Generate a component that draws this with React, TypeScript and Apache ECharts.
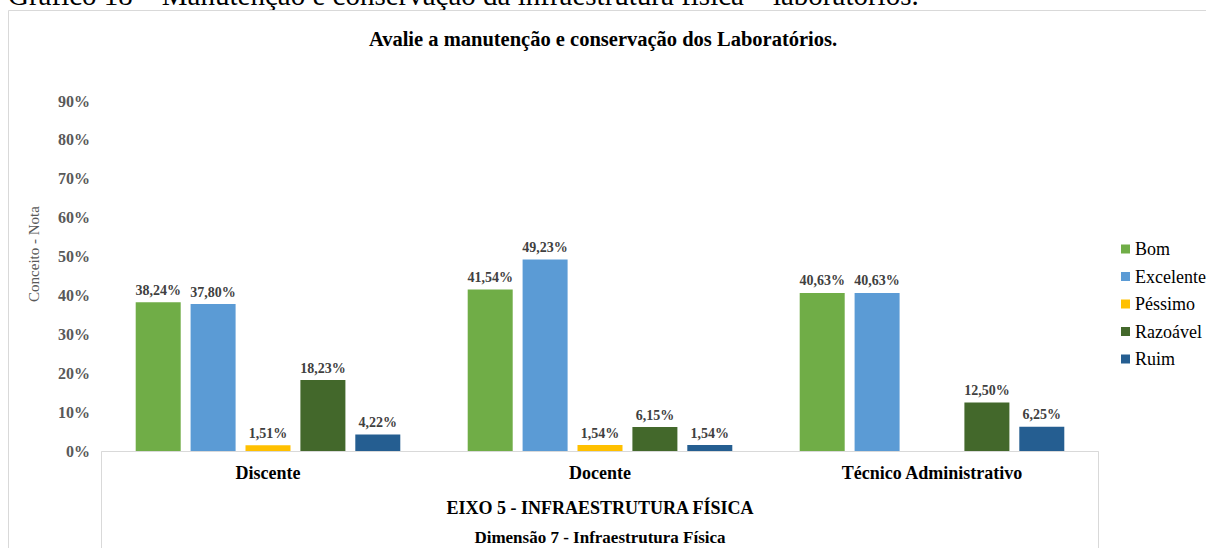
import React, { useEffect, useRef } from "react";
import * as echarts from "echarts";

const categories = ["Discente", "Docente", "Técnico Administrativo"];
const seriesNames = ["Bom", "Excelente", "Péssimo", "Razoável", "Ruim"];
const bom = [38.24, 41.54, 40.63];
const excelente = [37.8, 49.23, 40.63];
const pessimo: (number | null)[] = [1.51, 1.54, null];
const razoavel = [18.23, 6.15, 12.5];
const ruim = [4.22, 1.54, 6.25];
const colors = ["#70AD47", "#5B9BD5", "#FFC000", "#43682B", "#255E91"];
const yTicks = [0, 10, 20, 30, 40, 50, 60, 70, 80, 90];

const titleText = "Avalie a manutenção e conservação dos Laboratórios.";
const captionText = "Gráfico 18 – Manutenção e conservação da infraestrutura física – laboratórios.";
const yAxisName = "Conceito - Nota";
const eixoText = "EIXO 5 - INFRAESTRUTURA FÍSICA";
const dimText = "Dimensão 7 - Infraestrutura Física";

const FONT = "Liberation Serif";

export default function App() {
  const ref = useRef<HTMLDivElement>(null);
  useEffect(() => {
    if (!ref.current) return;
    const chart = echarts.init(ref.current, null, { renderer: "svg" });
    const allData = [bom, excelente, pessimo, razoavel, ruim];
    const fmt = (v: number) => v.toFixed(2).replace(".", ",") + "%";
    chart.setOption({
      animation: false,
      backgroundColor: "#ffffff",
      textStyle: { fontFamily: FONT },
      title: {
        text: titleText,
        left: "center",
        top: 23,
        textStyle: { fontFamily: FONT, fontSize: 20.5, fontWeight: "bold", color: "#000000" },
      },
      legend: {
        orient: "vertical",
        left: 1116,
        top: 235,
        icon: "rect",
        itemWidth: 9,
        itemHeight: 9,
        itemGap: 9.5,
        data: seriesNames,
        textStyle: { fontFamily: FONT, fontSize: 18, color: "#000000" },
      },
      grid: { left: 102, right: 108, top: 101, bottom: 97, containLabel: false },
      xAxis: {
        type: "category",
        data: categories,
        axisLine: { show: true, lineStyle: { color: "#d9d9d9", width: 1 } },
        axisTick: { show: false },
        axisLabel: {
          margin: 13,
          fontFamily: FONT,
          fontSize: 18,
          fontWeight: "bold",
          color: "#000000",
        },
      },
      yAxis: {
        type: "value",
        min: 0,
        max: 90,
        interval: 10,
        axisLine: { show: false },
        axisTick: { show: false },
        splitLine: { show: false },
        axisLabel: {
          margin: 12,
          fontFamily: FONT,
          fontSize: 16,
          fontWeight: "bold",
          color: "#595959",
          formatter: (v: number) => (yTicks.includes(v) ? v + "%" : ""),
        },
      },
      series: seriesNames.map((name, i) => ({
        name,
        type: "bar",
        data: allData[i],
        barWidth: 45,
        barGap: "22%",
        itemStyle: { color: colors[i] },
        label: {
          show: true,
          position: "top",
          distance: 5,
          fontFamily: FONT,
          fontSize: 14,
          fontWeight: "bold",
          color: "#404040",
          formatter: (p: any) => (p.value == null ? "" : fmt(p.value)),
        },
      })),
      graphic: [
        {
          type: "text",
          x: 8,
          y: -5,
          style: {
            text: captionText,
            font: `29px ${FONT}`,
            fill: "#000000",
            align: "left",
            verticalAlign: "middle",
          },
        },
        {
          type: "polyline",
          shape: { points: [[8.5, 548], [8.5, 10.5], [1206, 10.5]] },
          style: { stroke: "#d9d9d9", lineWidth: 1, fill: "none" },
        },
        {
          type: "polyline",
          shape: { points: [[101.5, 548], [101.5, 451.5], [1098.5, 451.5], [1098.5, 548]] },
          style: { stroke: "#d9d9d9", lineWidth: 1, fill: "none" },
        },
        {
          type: "text",
          x: 34,
          y: 254,
          rotation: Math.PI / 2,
          style: {
            text: yAxisName,
            font: `15px ${FONT}`,
            fill: "#595959",
            align: "center",
            verticalAlign: "middle",
          },
        },
        {
          type: "text",
          x: 600,
          y: 508,
          style: {
            text: eixoText,
            font: `bold 18px ${FONT}`,
            fill: "#000000",
            align: "center",
            verticalAlign: "middle",
          },
        },
        {
          type: "text",
          x: 600,
          y: 537,
          style: {
            text: dimText,
            font: `bold 17px ${FONT}`,
            fill: "#000000",
            align: "center",
            verticalAlign: "middle",
          },
        },
      ],
    });
    return () => chart.dispose();
  }, []);
  return (
    <div
      ref={ref}
      style={{ position: "fixed", left: 0, top: 0, width: 1206, height: 548 }}
    />
  );
}
